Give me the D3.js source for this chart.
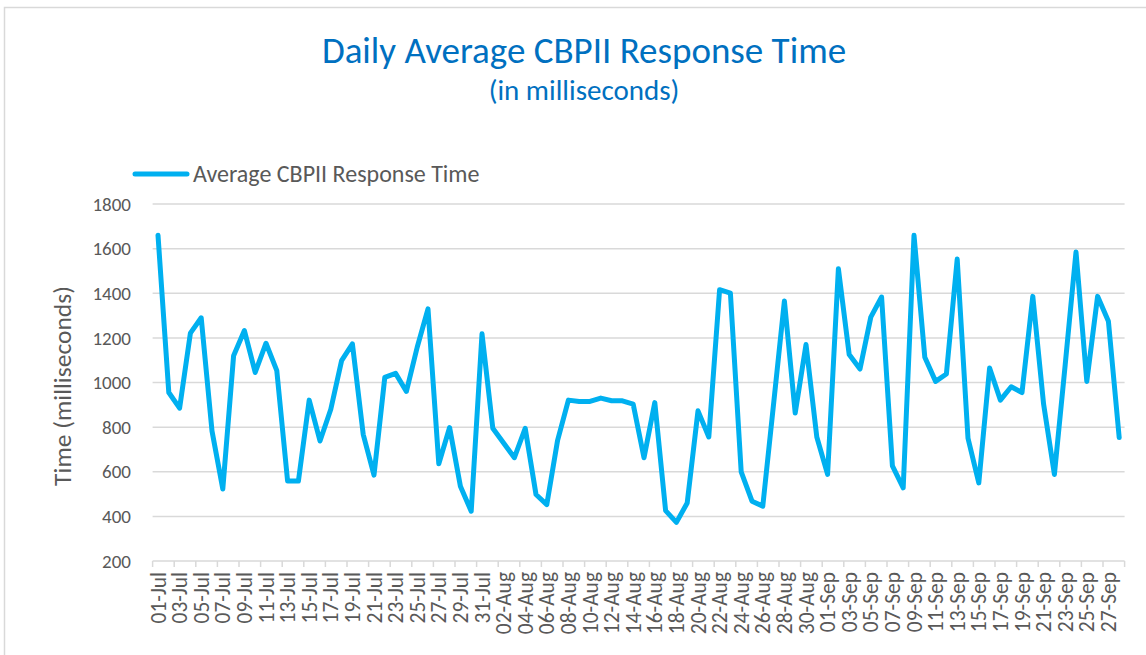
<!DOCTYPE html>
<html>
<head>
<meta charset="utf-8">
<script src="https://cdn.jsdelivr.net/npm/d3@7.9.0/dist/d3.min.js"></script>
<style>
  html, body { margin: 0; padding: 0; background: #fff; }
  svg { display: block; font-family: Carlito, Calibri, 'Open Sans', sans-serif; }
</style>
</head>
<body>
<svg id="chart" width="1146" height="655"></svg>
<script>
// categories: one per day, 01-Jul .. 28-Sep
const startDay = new Date(2020, 6, 1);
const endDay = new Date(2020, 8, 29);
const days = d3.timeDay.range(startDay, endDay).map(d3.timeFormat('%d-%b'));

// average CBPII response time (ms)
const responseTime = [
  1660, 955, 885, 1221, 1290, 783, 523, 1120, 1233, 1045,
  1176, 1053, 558, 558, 921, 738, 880, 1098, 1173, 768,
  585, 1023, 1041, 960, 1158, 1330, 636, 798, 535, 423,
  1218, 795, 729, 663, 795, 498, 453, 741, 921, 915,
  915, 930, 918, 918, 903, 663, 910, 426, 373, 460,
  873, 756, 1416, 1401, 599, 468, 446, 905, 1365, 863,
  1170, 756, 588, 1510, 1125, 1060, 1293, 1383, 626, 528,
  1660, 1113, 1005, 1038, 1553, 750, 550, 1065, 921, 981,
  955, 1386, 903, 588, 1080, 1585, 1005, 1386, 1275, 753
];

const yTicks = [200, 400, 600, 800, 1000, 1200, 1400, 1600, 1800];
const seriesName = 'Average CBPII Response Time';
const titleText = 'Daily Average CBPII Response Time';
const subtitleText = '(in milliseconds)';
const yTitle = 'Time (milliseconds)';

const lineColor = '#00B0F0';
const gridColor = '#D9D9D9';
const textColor = '#595959';

const svg = d3.select('#chart');

// chart frame
svg.append('rect')
  .attr('x', 4.5).attr('y', 7.5)
  .attr('width', 1160).attr('height', 660)
  .attr('fill', '#fff')
  .attr('stroke', gridColor)
  .attr('stroke-width', 1.5);

const x = d3.scaleBand()
  .domain(d3.range(days.length))
  .range([152.6, 1124.6])
  .padding(0);

const y = d3.scaleLinear()
  .domain([200, 1800])
  .range([561, 204]);

const cx = (i) => x(i) + x.bandwidth() / 2;

// gridlines
svg.append('g')
  .selectAll('line')
  .data(yTicks.slice(1))
  .join('line')
  .attr('x1', x.range()[0]).attr('x2', x.range()[1])
  .attr('y1', (d) => y(d)).attr('y2', (d) => y(d))
  .attr('stroke', gridColor)
  .attr('stroke-width', 1.5);

// y labels
svg.append('g')
  .selectAll('text')
  .data(yTicks)
  .join('text')
  .attr('x', 131)
  .attr('y', (d) => y(d))
  .attr('dy', '0.35em')
  .attr('text-anchor', 'end')
  .attr('fill', textColor)
  .attr('font-size', 19)
  .text((d) => d);

// x axis line + tick marks between every second category
const xAxis = svg.append('g');
xAxis.append('line')
  .attr('x1', x.range()[0]).attr('x2', x.range()[1])
  .attr('y1', y(200)).attr('y2', y(200))
  .attr('stroke', gridColor)
  .attr('stroke-width', 1.5);

const tickIdx = d3.range(0, days.length, 2);
xAxis.selectAll('line.tick')
  .data(tickIdx.map((i) => x(i)).concat([x.range()[1]]))
  .join('line')
  .attr('class', 'tick')
  .attr('x1', (d) => d).attr('x2', (d) => d)
  .attr('y1', y(200)).attr('y2', y(200) + 6)
  .attr('stroke', gridColor)
  .attr('stroke-width', 1.5);

xAxis.selectAll('text')
  .data(tickIdx)
  .join('text')
  .attr('transform', (i) => `translate(${cx(i)},${y(200) + 11}) rotate(-90)`)
  .attr('text-anchor', 'end')
  .attr('dy', '0.35em')
  .attr('fill', textColor)
  .attr('font-size', 21.5)
  .text((i) => days[i]);

// the series
const line = d3.line()
  .x((d, i) => cx(i))
  .y((d) => y(d));

svg.append('path')
  .datum(responseTime)
  .attr('d', line)
  .attr('fill', 'none')
  .attr('stroke', lineColor)
  .attr('stroke-width', 5)
  .attr('stroke-linejoin', 'round')
  .attr('stroke-linecap', 'round');

// titles
svg.append('text')
  .attr('x', 584).attr('y', 63)
  .attr('text-anchor', 'middle')
  .attr('fill', '#0070C0')
  .attr('font-size', 37)
  .text(titleText);

svg.append('text')
  .attr('x', 584).attr('y', 100)
  .attr('text-anchor', 'middle')
  .attr('fill', '#0070C0')
  .attr('font-size', 29)
  .text(subtitleText);

svg.append('text')
  .attr('transform', 'translate(71,386) rotate(-90)')
  .attr('text-anchor', 'middle')
  .attr('fill', textColor)
  .attr('font-size', 25.5)
  .text(yTitle);

// legend
const legend = svg.append('g').attr('transform', 'translate(135,174)');
legend.append('line')
  .attr('x1', 0).attr('x2', 52)
  .attr('stroke', lineColor)
  .attr('stroke-width', 5)
  .attr('stroke-linecap', 'round');
legend.append('text')
  .attr('x', 58)
  .attr('dy', '0.35em')
  .attr('fill', textColor)
  .attr('font-size', 24)
  .text(seriesName);
</script>
</body>
</html>
